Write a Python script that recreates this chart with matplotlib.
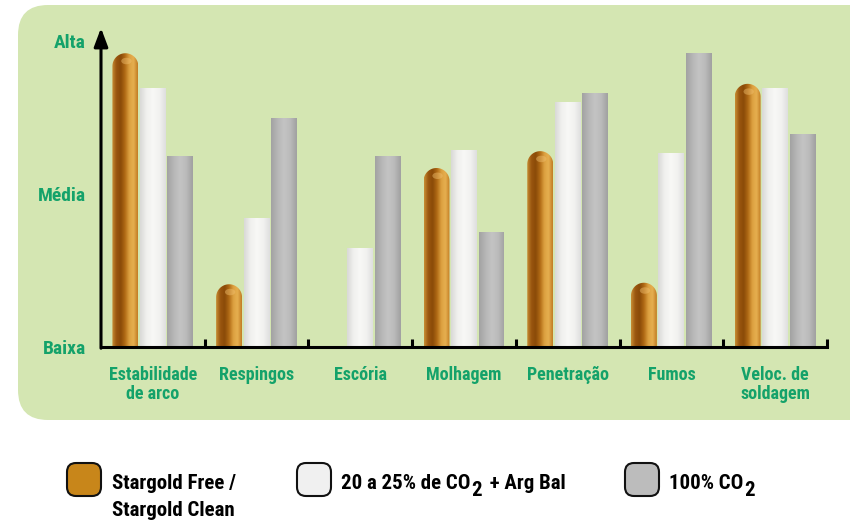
import numpy as np
import matplotlib
matplotlib.use('Agg')
import matplotlib.pyplot as plt
from matplotlib import font_manager
from matplotlib.colors import LinearSegmentedColormap
from matplotlib.patches import FancyBboxPatch, PathPatch, Ellipse
from matplotlib.path import Path

# the original uses a condensed bold face; pick the first one installed
names = {f.name for f in font_manager.fontManager.ttflist}
FONT = 'DejaVu Sans'
for p in ['Liberation Sans Narrow', 'Roboto Condensed', 'Barlow Condensed']:
    if p in names:
        FONT = p
        break

plt.rcParams['font.family'] = [FONT, 'DejaVu Sans']
plt.rcParams['font.weight'] = 'bold'

categories = ['Estabilidade\nde arco', 'Respingos', 'Escória', 'Molhagem',
              'Penetração', 'Fumos', 'Veloc. de\nsoldagem']
stargold = [1.92, 0.41, 0.0, 1.17, 1.28, 0.42, 1.72]
mix_co2 = [1.69, 0.84, 0.65, 1.29, 1.60, 1.27, 1.69]
pure_co2 = [1.25, 1.50, 1.25, 0.75, 1.66, 1.92, 1.39]
level_labels = ['Baixa', 'Média', 'Alta']
level_values = [0, 1, 2]
legend_names = ['Stargold Free /', 'Stargold Clean']

GREEN = '#14a26a'
PANEL = '#d4e6b2'
BAR_W = 0.25
OFFSET = 0.265
W, H = 850, 522
PX_X, PX_Y = 726 / 7, 153.0   # pixels per data unit
LEG_FS = 15

orange_cm = LinearSegmentedColormap.from_list(
    'orange', ['#c98f35', '#9a560f', '#8a4a08', '#b06a15', '#dca040', '#e6b050', '#c07a22'])
white_cm = LinearSegmentedColormap.from_list(
    'white', ['#d8d8d6', '#f0f0ee', '#f8f8f6', '#f2f2f0', '#dedede'])
gray_cm = LinearSegmentedColormap.from_list(
    'gray', ['#a2a2a2', '#b6b6b6', '#c4c4c4', '#bababa', '#a0a0a0'])
grad = np.linspace(0, 1, 256)[None, :]

fig = plt.figure(figsize=(W / 100, H / 100), dpi=100)
fig.patch.set_facecolor('white')

panel = FancyBboxPatch((0.18, (H - 420) / 100), 9.0, 4.15,
                       boxstyle='round,pad=0,rounding_size=0.3',
                       transform=fig.dpi_scale_trans, facecolor=PANEL,
                       edgecolor='none', zorder=-1)
fig.add_artist(panel)

ax = fig.add_axes([101 / W, (H - 347) / H, 726 / W, 319 / H])
ax.patch.set_visible(False)
ax.set_xlim(0, 7)
ax.set_ylim(0, 319 / PX_Y)


def draw_bar(xc, h, cmap, rounded=False):
    if h <= 0:
        return
    x0, x1 = xc - BAR_W / 2, xc + BAR_W / 2
    if rounded:
        dome = (BAR_W / 2) * PX_X / PX_Y
        t = np.linspace(np.pi, 0, 40)
        arc = list(zip(xc + BAR_W / 2 * np.cos(t), h - dome + dome * np.sin(t)))
        verts = [(x0, 0)] + arc + [(x1, 0), (x0, 0)]
    else:
        verts = [(x0, 0), (x0, h), (x1, h), (x1, 0), (x0, 0)]
    clip = PathPatch(Path(verts), transform=ax.transData,
                     facecolor='none', edgecolor='none')
    ax.add_patch(clip)
    img = ax.imshow(grad, cmap=cmap, extent=[x0, x1, 0, h], aspect='auto',
                    zorder=2, interpolation='bicubic')
    img.set_clip_path(clip)
    if rounded:
        hl = Ellipse((xc + 0.01, h - dome * 0.6), BAR_W * 0.4, dome * 0.5,
                     facecolor='#f0c070', edgecolor='none', alpha=0.45, zorder=3)
        ax.add_patch(hl)
        hl.set_clip_path(clip)


centers = np.arange(len(categories)) + 0.5
for i, c in enumerate(centers):
    draw_bar(c - OFFSET, stargold[i], orange_cm, rounded=True)
    draw_bar(c, mix_co2[i], white_cm)
    draw_bar(c + OFFSET, pure_co2[i], gray_cm)

for s in ['top', 'right', 'left']:
    ax.spines[s].set_visible(False)
ax.spines['bottom'].set_linewidth(2.2)
ax.spines['bottom'].set_zorder(5)

ax.annotate('', xy=(0, 319 / PX_Y), xytext=(0, -0.008),
            arrowprops=dict(arrowstyle='-|>,head_length=0.8,head_width=0.3',
                            color='black', lw=2.2, mutation_scale=14,
                            shrinkA=0, shrinkB=0),
            annotation_clip=False, zorder=6)

ax.set_yticks(level_values, level_labels)
ax.tick_params(axis='y', length=0, pad=11, labelsize=14, labelcolor=GREEN)

ax.set_xticks(np.arange(1, len(categories) + 1), [])
ax.tick_params(axis='x', which='major', direction='in', length=6, width=2.2)
ax.set_xticks(centers, categories, minor=True)
ax.tick_params(axis='x', which='minor', length=0, pad=13.5, labelsize=13,
               labelcolor=GREEN)
for lab in ax.get_xticklabels(minor=True):
    lab.set_linespacing(1.12)

swatch_x = [67, 297, 625]
swatch_fc = ['#c8861a', '#f0f0f0', '#bcbcbc']
for sx, fc in zip(swatch_x, swatch_fc):
    fig.add_artist(FancyBboxPatch((sx / 100, (H - 496) / 100), 0.34, 0.33,
                                  boxstyle='round,pad=0,rounding_size=0.09',
                                  transform=fig.dpi_scale_trans, facecolor=fc,
                                  edgecolor='#111111', lw=1.5))

base1 = (H - 489) / H
base2 = (H - 516) / H
fig.text(112 / W, base1, legend_names[0], fontsize=LEG_FS, va='baseline')
fig.text(112 / W, base2, legend_names[1], fontsize=LEG_FS, va='baseline')


def co2_text(x, before, after):
    t1 = fig.text(x / W, base1, before + 'CO', fontsize=LEG_FS, va='baseline')
    t2 = ax.annotate('2', xy=(1, base1), xycoords=(t1, 'figure fraction'),
                     xytext=(0.5, -5), textcoords='offset points',
                     fontsize=LEG_FS, va='baseline', annotation_clip=False)
    if after:
        ax.annotate(after, xy=(1, base1), xycoords=(t2, 'figure fraction'),
                    xytext=(2, 0), textcoords='offset points',
                    fontsize=LEG_FS, va='baseline', annotation_clip=False)


co2_text(341, '20 a 25% de ', ' + Arg Bal')
co2_text(669, '100% ', '')

fig.savefig('out.png', dpi=100)
